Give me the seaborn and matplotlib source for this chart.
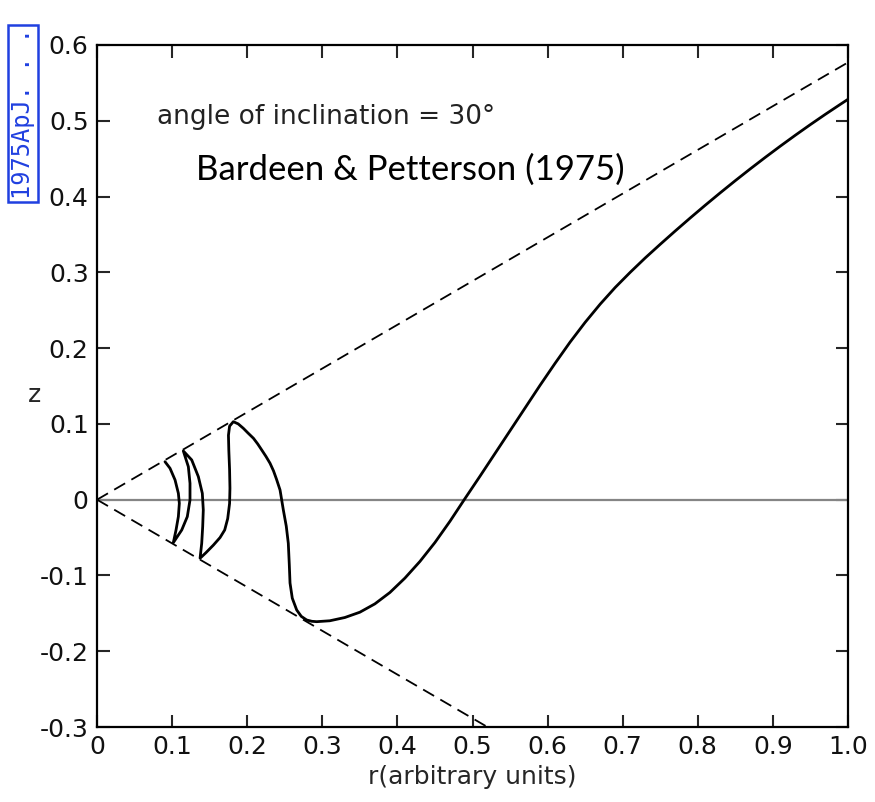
import matplotlib
matplotlib.use("Agg")
import matplotlib.pyplot as plt
import seaborn as sns
import pandas as pd

# ---- data ----
r_curve = [0.0905, 0.0972, 0.1039, 0.1083, 0.1096, 0.1083, 0.1052, 0.1016,
           0.1128, 0.1202, 0.1238, 0.1238, 0.1216, 0.1149,
           0.1261, 0.1349, 0.1402, 0.1415, 0.1407, 0.1394, 0.1372,
           0.1450, 0.1549, 0.1638, 0.1700, 0.1740, 0.1765, 0.1770, 0.1765,
           0.1755, 0.1750, 0.1765, 0.1815,
           0.1880, 0.1948, 0.2010, 0.2083, 0.2140, 0.2193, 0.2250, 0.2304,
           0.2350, 0.2390, 0.2437, 0.2481, 0.2520, 0.2547, 0.2560, 0.2570,
           0.2600, 0.2659, 0.2720, 0.2792, 0.2860, 0.2925,
           0.31, 0.33, 0.35, 0.37, 0.39, 0.41, 0.43, 0.45, 0.47, 0.49,
           0.51, 0.53, 0.55, 0.57, 0.59, 0.61, 0.63, 0.65, 0.67, 0.69,
           0.71, 0.73, 0.75, 0.77, 0.79, 0.81, 0.83, 0.85, 0.87, 0.89,
           0.91, 0.93, 0.95, 0.97, 0.99, 1.00]
z_curve = [0.0501, 0.0414, 0.0260, 0.0084, -0.0048, -0.0224, -0.0400, -0.0567,
           -0.0400, -0.0224, -0.0004, 0.0216, 0.0435, 0.0643,
           0.0524, 0.0304, 0.0084, -0.0136, -0.0356, -0.0575, -0.0773,
           -0.0700, -0.0600, -0.0500, -0.0400, -0.0250, -0.0050, 0.0150, 0.0400,
           0.0650, 0.0850, 0.0970, 0.1029,
           0.1000, 0.0942, 0.0880, 0.0810, 0.0735, 0.0656, 0.0570, 0.0480,
           0.0380, 0.0270, 0.0128, -0.0136, -0.0350, -0.0575, -0.0850, -0.1100,
           -0.1300, -0.1456, -0.1540, -0.1588, -0.1605, -0.1610,
           -0.1598, -0.1555, -0.1485, -0.1375, -0.1225, -0.1035, -0.0815, -0.0565,
           -0.0285, 0.0015,
           0.0310, 0.0610, 0.0910, 0.1210, 0.1510, 0.1800, 0.2080, 0.2340, 0.2580,
           0.2800, 0.3000, 0.3190, 0.3370, 0.3546, 0.3718, 0.3886, 0.4050, 0.4210,
           0.4366, 0.4518, 0.4666, 0.4810, 0.4950, 0.5086, 0.5218, 0.5283]

cone_r = [0.0, 1.0]
cone_upper = [0.0, 0.577]
cone_lower = [0.0, -0.577]

x_ticks = [0.0, 0.1, 0.2, 0.3, 0.4, 0.5, 0.6, 0.7, 0.8, 0.9, 1.0]
x_tick_labels = ["0", "0.1", "0.2", "0.3", "0.4", "0.5", "0.6", "0.7", "0.8", "0.9", "1.0"]
y_ticks = [-0.3, -0.2, -0.1, 0.0, 0.1, 0.2, 0.3, 0.4, 0.5, 0.6]
y_tick_labels = ["-0.3", "-0.2", "-0.1", "0", "0.1", "0.2", "0.3", "0.4", "0.5", "0.6"]

# ---- plotting ----
sns.set_style("ticks")
plt.rcParams['font.family'] = ['DejaVu Sans']

fig = plt.figure(figsize=(8.75, 8.02), dpi=100)
ax = fig.add_axes([0.1109, 0.0935, 0.8582, 0.8504])

# zero line
ax.axhline(0.0, color="#858585", lw=1.6, zorder=1)

# cone (dashed)
cone_df = pd.DataFrame({"r": cone_r * 2,
                        "z": cone_upper + cone_lower,
                        "side": ["up", "up", "low", "low"]})
for side in ["up", "low"]:
    sub = cone_df[cone_df.side == side]
    sns.lineplot(data=sub, x="r", y="z", ax=ax, color="black", lw=1.3,
                 sort=False, estimator=None, zorder=2)
for line in ax.lines[1:]:
    line.set_dashes([7, 4])

# warped disk curve
curve_df = pd.DataFrame({"r": r_curve, "z": z_curve})
sns.lineplot(data=curve_df, x="r", y="z", ax=ax, color="black", lw=2.0,
             sort=False, estimator=None, zorder=3)

ax.set_xlim(0, 1.0)
ax.set_ylim(-0.3, 0.6)
ax.set_xticks(x_ticks)
ax.set_xticklabels(x_tick_labels)
ax.set_yticks(y_ticks)
ax.set_yticklabels(y_tick_labels)
ax.tick_params(direction="in", length=9, width=1.5, labelsize=18,
               top=True, right=True, labelcolor="#111111", pad=6)
for s in ax.spines.values():
    s.set_linewidth(1.6)
    s.set_color("black")

ax.set_xlabel("r(arbitrary units)", fontsize=18, labelpad=4)
ax.set_ylabel("z", fontsize=18, rotation=0, va="center")
ax.yaxis.set_label_coords(-0.083, 0.487)

ax.text(0.08, 0.894, "angle of inclination = 30°", transform=ax.transAxes,
        fontsize=19, ha="left", va="center", color="#222222")
ax.text(0.132, 0.817, "Bardeen & Petterson (1975)", transform=ax.transAxes,
        fontsize=25, ha="left", va="center", color="black",
        family=["Lato", "DejaVu Sans"])

fig.text(0.026, 0.752, "1975ApJ. . .", rotation=90, fontsize=17, color="#2040e0",
         family=["DejaVu Sans Mono"], ha="center", va="bottom",
         bbox=dict(boxstyle="square,pad=0.12", fc="white", ec="#2040e0", lw=1.8))

fig.savefig("out.png", dpi=100)
